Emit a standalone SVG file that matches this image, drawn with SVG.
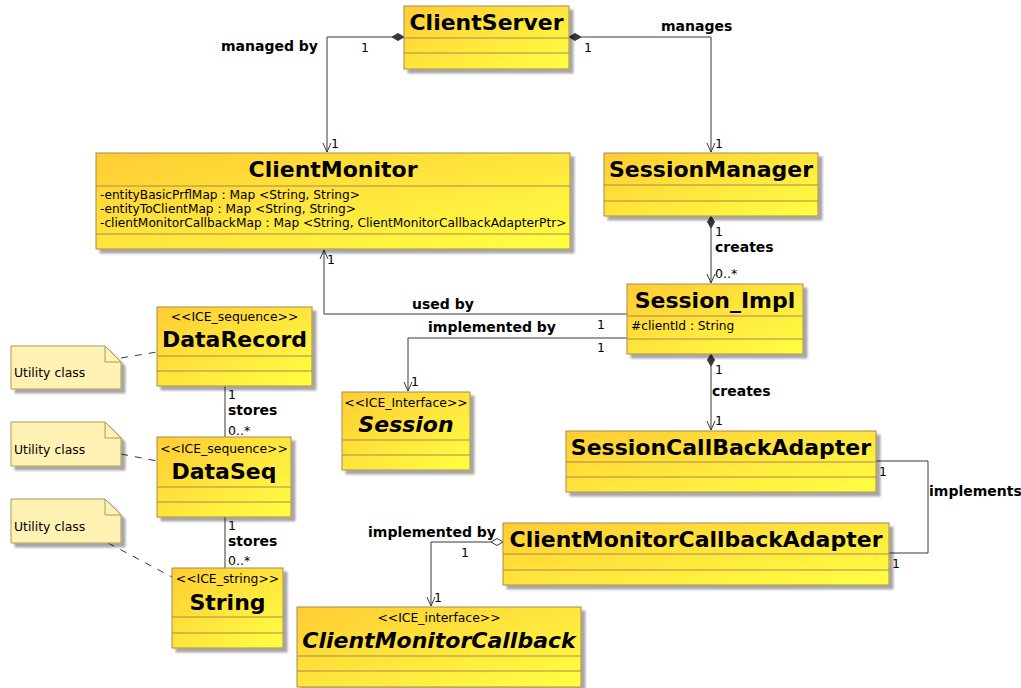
<svg xmlns="http://www.w3.org/2000/svg" width="1021" height="688" viewBox="0 0 1021 688">
  <style>
    .box { fill: url(#classFill); stroke: #A8894F; stroke-width: 1; filter: url(#shadow); }
    .sep { stroke: #A8894F; stroke-width: 1; fill: none; }
    .note { fill: #FFF2B3; stroke: #A89A5A; stroke-width: 1; filter: url(#shadow); }
    .fold { fill: none; stroke: #A89A5A; stroke-width: 1; }
    .title { font-family: "DejaVu Sans", sans-serif; font-weight: bold; font-size: 22px; fill: #000; text-anchor: middle; }
    .ititle { font-family: "DejaVu Sans", sans-serif; font-weight: bold; font-style: italic; font-size: 22px; fill: #000; text-anchor: middle; }
    .stereo { font-family: "DejaVu Sans", sans-serif; font-size: 12.4px; fill: #000; text-anchor: middle; }
    .attr { font-family: "DejaVu Sans", sans-serif; font-size: 12.2px; fill: #000; }
    .notetext { font-family: "DejaVu Sans", sans-serif; font-size: 12.4px; fill: #000; }
    .lbl { font-family: "DejaVu Sans", sans-serif; font-weight: bold; font-size: 14px; fill: #000; }
    .mult { font-family: "DejaVu Sans", sans-serif; font-size: 12.5px; fill: #000; }
    .link { fill: none; stroke: #383838; stroke-width: 1; }
    .dash { fill: none; stroke: #383838; stroke-width: 1; stroke-dasharray: 7 7; }
  </style>
  <defs>
    <linearGradient id="classFill" x1="0" y1="0" x2="1" y2="1">
      <stop offset="0" stop-color="#FFCC33"/>
      <stop offset="1" stop-color="#FFFF44"/>
    </linearGradient>
    <filter id="shadow" x="-10%" y="-10%" width="130%" height="140%">
      <feGaussianBlur in="SourceAlpha" stdDeviation="1.2" result="b"/>
      <feOffset in="b" dx="4" dy="4" result="o"/>
      <feComponentTransfer in="o" result="s">
        <feFuncA type="linear" slope="0.35"/>
      </feComponentTransfer>
      <feMerge>
        <feMergeNode in="s"/>
        <feMergeNode in="SourceGraphic"/>
      </feMerge>
    </filter>
    <marker id="arrow" viewBox="-11 -6 13 12" markerWidth="13" markerHeight="12" refX="0" refY="0" orient="auto" markerUnits="userSpaceOnUse">
      <path d="M-9,-4 L0,0 L-9,4" fill="none" stroke="#383838" stroke-width="1"/>
    </marker>
    <marker id="diamond" viewBox="-1 -5 15 10" markerWidth="15" markerHeight="10" refX="0" refY="0" orient="auto" markerUnits="userSpaceOnUse">
      <path d="M0,0 L6,-3.5 L12,0 L6,3.5 Z" fill="#383838" stroke="#383838" stroke-width="1"/>
    </marker>
    <marker id="hollowDiamond" viewBox="-1 -5 15 10" markerWidth="15" markerHeight="10" refX="0" refY="0" orient="auto" markerUnits="userSpaceOnUse">
      <path d="M0,0 L6,-3.5 L12,0 L6,3.5 Z" fill="#FFFFFF" stroke="#383838" stroke-width="1"/>
    </marker>
  </defs>

  <rect width="1021" height="688" fill="#FFFFFF"/>

  <!-- connectors -->
  <g id="connectors">
    <path class="link" d="M404,37 H327 V152" marker-start="url(#diamond)" marker-end="url(#arrow)"/>
    <path class="link" d="M569,37 H711 V152" marker-start="url(#diamond)" marker-end="url(#arrow)"/>
    <path class="link" d="M711,216 V283" marker-start="url(#diamond)" marker-end="url(#arrow)"/>
    <path class="link" d="M627,314 H324 V250" marker-end="url(#arrow)"/>
    <path class="link" d="M627,338 H408 V391" marker-end="url(#arrow)"/>
    <path class="link" d="M711,354 V430" marker-start="url(#diamond)" marker-end="url(#arrow)"/>
    <path class="link" d="M876,461 H928 V553 H889"/>
    <path class="link" d="M503,542 H431 V606" marker-start="url(#hollowDiamond)" marker-end="url(#arrow)"/>
    <path class="link" d="M225,386 V437"/>
    <path class="link" d="M225,517 V568"/>
    <path class="dash" d="M121,358 L157,352"/>
    <path class="dash" d="M121,454 L157,461"/>
    <path class="dash" d="M108,543 L172,577"/>

    <text class="lbl" x="318" y="51" text-anchor="end">managed by</text>
    <text class="mult" x="361" y="52">1</text>
    <text class="mult" x="331" y="148">1</text>
    <text class="lbl" x="661" y="31">manages</text>
    <text class="mult" x="584" y="52">1</text>
    <text class="mult" x="715" y="148">1</text>
    <text class="mult" x="715" y="236">1</text>
    <text class="lbl" x="715" y="252">creates</text>
    <text class="mult" x="715" y="278">0..*</text>
    <text class="lbl" x="412" y="309">used by</text>
    <text class="mult" x="597" y="329">1</text>
    <text class="mult" x="327" y="264">1</text>
    <text class="lbl" x="428" y="332">implemented by</text>
    <text class="mult" x="597" y="352">1</text>
    <text class="mult" x="411" y="386">1</text>
    <text class="mult" x="715" y="374">1</text>
    <text class="lbl" x="712" y="396">creates</text>
    <text class="mult" x="715" y="425">1</text>
    <text class="mult" x="879" y="476">1</text>
    <text class="lbl" x="929" y="496">implements</text>
    <text class="mult" x="892" y="568">1</text>
    <text class="lbl" x="496" y="537" text-anchor="end">implemented by</text>
    <text class="mult" x="461" y="557">1</text>
    <text class="mult" x="434" y="602">1</text>
    <text class="mult" x="228" y="399">1</text>
    <text class="lbl" x="228" y="415">stores</text>
    <text class="mult" x="228" y="435">0..*</text>
    <text class="mult" x="228" y="530">1</text>
    <text class="lbl" x="228" y="546">stores</text>
    <text class="mult" x="228" y="565">0..*</text>
  </g>

  <!-- classes -->
  <g id="ClientServer">
    <rect class="box" x="404" y="6" width="165" height="63"/>
    <line class="sep" x1="404" y1="38" x2="569" y2="38"/>
    <line class="sep" x1="404" y1="53" x2="569" y2="53"/>
    <text class="title" x="486.5" y="30">ClientServer</text>
  </g>

  <g id="ClientMonitor">
    <rect class="box" x="96" y="153" width="474" height="96"/>
    <line class="sep" x1="96" y1="186" x2="570" y2="186"/>
    <line class="sep" x1="96" y1="234" x2="570" y2="234"/>
    <text class="title" x="333" y="177">ClientMonitor</text>
    <text class="attr" x="100" y="199">-entityBasicPrflMap : Map &lt;String, String&gt;</text>
    <text class="attr" x="100" y="213">-entityToClientMap : Map &lt;String, String&gt;</text>
    <text class="attr" x="100" y="227">-clientMonitorCallbackMap : Map &lt;String, ClientMonitorCallbackAdapterPtr&gt;</text>
  </g>

  <g id="SessionManager">
    <rect class="box" x="604" y="153" width="214" height="63"/>
    <line class="sep" x1="604" y1="185" x2="818" y2="185"/>
    <line class="sep" x1="604" y1="201" x2="818" y2="201"/>
    <text class="title" x="711" y="177">SessionManager</text>
  </g>

  <g id="Session_Impl">
    <rect class="box" x="627" y="284" width="176" height="70"/>
    <line class="sep" x1="627" y1="316" x2="803" y2="316"/>
    <line class="sep" x1="627" y1="339" x2="803" y2="339"/>
    <text class="title" x="715" y="308">Session_Impl</text>
    <text class="attr" x="631" y="330">#clientId : String</text>
  </g>

  <g id="Session">
    <rect class="box" x="342" y="392" width="128" height="78"/>
    <line class="sep" x1="342" y1="440" x2="470" y2="440"/>
    <line class="sep" x1="342" y1="455" x2="470" y2="455"/>
    <text class="stereo" x="406" y="407">&lt;&lt;ICE_Interface&gt;&gt;</text>
    <text class="ititle" x="406" y="432">Session</text>
  </g>

  <g id="SessionCallBackAdapter">
    <rect class="box" x="566" y="431" width="310" height="61"/>
    <line class="sep" x1="566" y1="462" x2="876" y2="462"/>
    <line class="sep" x1="566" y1="477" x2="876" y2="477"/>
    <text class="title" x="721" y="455">SessionCallBackAdapter</text>
  </g>

  <g id="ClientMonitorCallbackAdapter">
    <rect class="box" x="503" y="523" width="386" height="62"/>
    <line class="sep" x1="503" y1="554" x2="889" y2="554"/>
    <line class="sep" x1="503" y1="570" x2="889" y2="570"/>
    <text class="title" x="696" y="547">ClientMonitorCallbackAdapter</text>
  </g>

  <g id="ClientMonitorCallback">
    <rect class="box" x="297" y="607" width="284" height="80"/>
    <line class="sep" x1="297" y1="656" x2="581" y2="656"/>
    <line class="sep" x1="297" y1="671" x2="581" y2="671"/>
    <text class="stereo" x="439" y="622">&lt;&lt;ICE_interface&gt;&gt;</text>
    <text class="ititle" x="439" y="648">ClientMonitorCallback</text>
  </g>

  <g id="DataRecord">
    <rect class="box" x="157" y="307" width="155" height="79"/>
    <line class="sep" x1="157" y1="356" x2="312" y2="356"/>
    <line class="sep" x1="157" y1="371" x2="312" y2="371"/>
    <text class="stereo" x="234.5" y="321">&lt;&lt;ICE_sequence&gt;&gt;</text>
    <text class="title" x="234.5" y="347">DataRecord</text>
  </g>

  <g id="DataSeq">
    <rect class="box" x="157" y="437" width="134" height="80"/>
    <line class="sep" x1="157" y1="487" x2="291" y2="487"/>
    <line class="sep" x1="157" y1="502" x2="291" y2="502"/>
    <text class="stereo" x="224" y="453">&lt;&lt;ICE_sequence&gt;&gt;</text>
    <text class="title" x="224" y="479">DataSeq</text>
  </g>

  <g id="String">
    <rect class="box" x="172" y="568" width="111" height="80"/>
    <line class="sep" x1="172" y1="617" x2="283" y2="617"/>
    <line class="sep" x1="172" y1="633" x2="283" y2="633"/>
    <text class="stereo" x="227.5" y="583">&lt;&lt;ICE_string&gt;&gt;</text>
    <text class="title" x="227.5" y="610">String</text>
  </g>

  <!-- notes -->
  <g id="note1">
    <path class="note" d="M11,346 H105 L121,362 V389 H11 Z"/>
    <path class="fold" d="M105,346 V362 H121"/>
    <text class="notetext" x="14" y="377">Utility class</text>
  </g>
  <g id="note2">
    <path class="note" d="M11,422 H105 L121,438 V466 H11 Z"/>
    <path class="fold" d="M105,422 V438 H121"/>
    <text class="notetext" x="14" y="454">Utility class</text>
  </g>
  <g id="note3">
    <path class="note" d="M11,499 H105 L121,515 V543 H11 Z"/>
    <path class="fold" d="M105,499 V515 H121"/>
    <text class="notetext" x="14" y="531">Utility class</text>
  </g>
</svg>
